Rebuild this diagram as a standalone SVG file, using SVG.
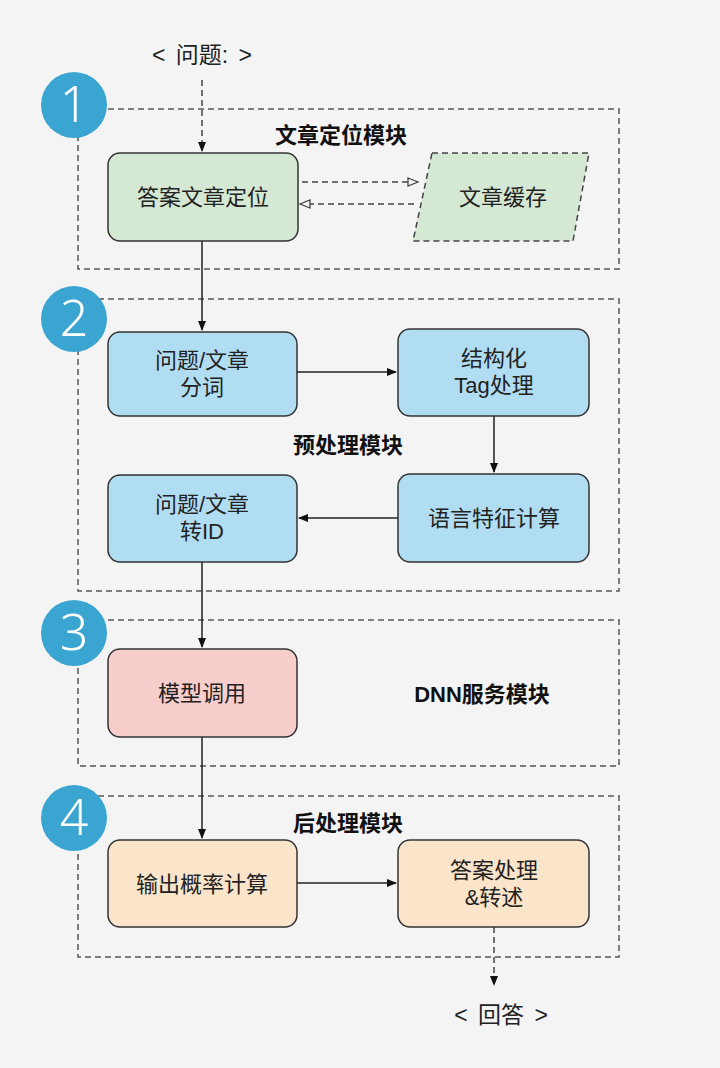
<svg xmlns="http://www.w3.org/2000/svg" width="720" height="1068" viewBox="0 0 720 1068">
<defs>
<style>
text{font-family:"Liberation Sans","Noto Sans CJK SC",sans-serif;fill:#222;text-anchor:middle;dominant-baseline:central}
.t{font-size:22px}
.io{font-size:23px;word-spacing:4px}
.h{font-size:22px;font-weight:bold;fill:#111}
.n{font-size:50px;fill:#fff;font-family:"Noto Sans","DejaVu Sans",sans-serif;font-weight:300}
.grp{fill:none;stroke:#555;stroke-width:1.5;stroke-dasharray:6 4}
.box{stroke:#333;stroke-width:1.5}
.c{fill:#3aa5d0}
.ln{fill:none;stroke:#222;stroke-width:1.5}
.dl{fill:none;stroke:#444;stroke-width:1.5;stroke-dasharray:6 4}
</style>
<marker id="ah" viewBox="0 0 10 10" refX="9" refY="5" markerWidth="10" markerHeight="10" markerUnits="userSpaceOnUse" orient="auto">
<path d="M0,1 L10,5 L0,9 Z" fill="#111"/>
</marker>
<marker id="ao" viewBox="0 0 12 10" refX="11" refY="5" markerWidth="12" markerHeight="10" markerUnits="userSpaceOnUse" orient="auto">
<path d="M1,1 L11,5 L1,9 Z" fill="#f4f4f4" stroke="#444" stroke-width="1.3"/>
</marker>
</defs>
<rect width="720" height="1068" fill="#f4f4f4"/>

<g id="groups">
<rect class="grp" x="78" y="109" width="541" height="160"/>
<rect class="grp" x="78" y="299" width="541" height="292"/>
<rect class="grp" x="78" y="620" width="541" height="146"/>
<rect class="grp" x="78" y="796" width="541" height="161"/>
</g>

<g id="badges">
<circle class="c" cx="74" cy="105" r="33"/><text class="n" x="74" y="103">1</text>
<circle class="c" cx="74" cy="319" r="33"/><text class="n" x="74" y="317">2</text>
<circle class="c" cx="74" cy="633" r="33"/><text class="n" x="74" y="631">3</text>
<circle class="c" cx="74" cy="818" r="33"/><text class="n" x="74" y="816">4</text>
</g>

<g id="labels">
<text class="io" x="202" y="55">&lt; 问题: &gt;</text>
<text class="h" x="341" y="135">文章定位模块</text>
<text class="h" x="348" y="445">预处理模块</text>
<text class="h" x="482" y="694">DNN服务模块</text>
<text class="h" x="348" y="823">后处理模块</text>
<text class="io" x="501" y="1015">&lt; 回答 &gt;</text>
</g>

<g id="connectors">
<path class="dl" d="M202,80 V151" marker-end="url(#ah)"/>
<path class="dl" d="M302,182 H418" marker-end="url(#ao)"/>
<path class="dl" d="M414,204 H300" marker-end="url(#ao)"/>
<path class="ln" d="M202,241 V330" marker-end="url(#ah)"/>
<path class="ln" d="M297,372 H396" marker-end="url(#ah)"/>
<path class="ln" d="M494,416 V472" marker-end="url(#ah)"/>
<path class="ln" d="M398,518 H299" marker-end="url(#ah)"/>
<path class="ln" d="M202,562 V647" marker-end="url(#ah)"/>
<path class="ln" d="M202,737 V838" marker-end="url(#ah)"/>
<path class="ln" d="M297,883 H396" marker-end="url(#ah)"/>
<path class="dl" d="M494,927 V985" marker-end="url(#ah)"/>
</g>

<g id="n-locate">
<rect class="box" x="108" y="153" width="190" height="88" rx="12" fill="#d5e8d4"/>
<text class="t" x="203" y="197">答案文章定位</text>
</g>
<g id="n-cache">
<path d="M432,153 H589 L573,241 H413 Z" fill="#d5e8d4" stroke="#444" stroke-width="1.5" stroke-dasharray="6 4"/>
<text class="t" x="503" y="197">文章缓存</text>
</g>
<g id="n-seg">
<rect class="box" x="108" y="332" width="189" height="84" rx="12" fill="#b1ddf3"/>
<text class="t" x="202" y="360">问题/文章<tspan x="202" dy="27">分词</tspan></text>
</g>
<g id="n-tag">
<rect class="box" x="398" y="329" width="191" height="87" rx="12" fill="#b1ddf3"/>
<text class="t" x="494" y="358">结构化<tspan x="494" dy="27">Tag处理</tspan></text>
</g>
<g id="n-feat">
<rect class="box" x="398" y="474" width="191" height="88" rx="12" fill="#b1ddf3"/>
<text class="t" x="494" y="518">语言特征计算</text>
</g>
<g id="n-id">
<rect class="box" x="108" y="475" width="189" height="87" rx="12" fill="#b1ddf3"/>
<text class="t" x="202" y="504">问题/文章<tspan x="202" dy="27">转ID</tspan></text>
</g>
<g id="n-model">
<rect class="box" x="108" y="649" width="189" height="88" rx="12" fill="#f8cecc"/>
<text class="t" x="202" y="693">模型调用</text>
</g>
<g id="n-prob">
<rect class="box" x="108" y="840" width="189" height="87" rx="12" fill="#fae4ca"/>
<text class="t" x="202" y="884">输出概率计算</text>
</g>
<g id="n-ans">
<rect class="box" x="398" y="840" width="191" height="87" rx="12" fill="#fae4ca"/>
<text class="t" x="494" y="870">答案处理<tspan x="494" dy="27">&amp;转述</tspan></text>
</g>
</svg>
